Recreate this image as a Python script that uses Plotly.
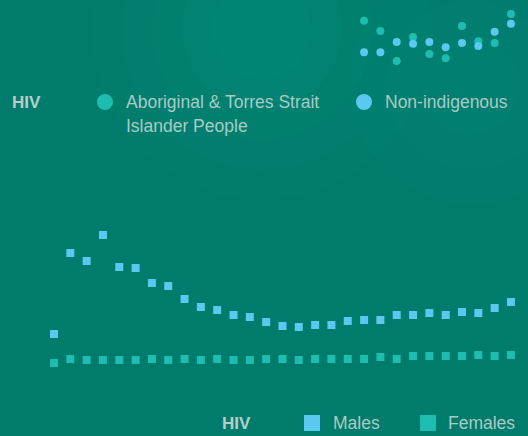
import plotly.graph_objects as go

# ---- data ----
years = list(range(1985, 2014))
males = [3.8, 11.9, 11.1, 13.7, 10.5, 10.4, 8.9, 8.6, 7.3, 6.5, 6.2, 5.7, 5.5, 5.0,
         4.6, 4.5, 4.7, 4.7, 5.1, 5.2, 5.2, 5.7, 5.7, 5.9, 5.7, 6.0, 5.9, 6.4, 7.0]
females = [0.9, 1.3, 1.2, 1.2, 1.2, 1.2, 1.3, 1.2, 1.3, 1.2, 1.3, 1.2, 1.2, 1.3,
           1.3, 1.2, 1.3, 1.3, 1.3, 1.3, 1.5, 1.3, 1.6, 1.6, 1.6, 1.6, 1.7, 1.6, 1.7]
years_ind = list(range(2004, 2014))
aboriginal = [5.95, 5.27, 3.27, 4.87, 3.73, 3.45, 5.60, 4.58, 4.47, 6.40]
non_indigenous = [3.85, 3.85, 4.53, 4.42, 4.53, 4.18, 4.47, 4.27, 5.22, 5.75]

BLUE = "#5bc8ef"
TEAL = "#1fbcb0"
TXT = "#a8cbc4"
HIVC = "#b6cfca"
W, H = 528, 436

fig = go.Figure()
fig.add_trace(go.Scatter(x=years, y=males, mode="markers", name="Males",
                         marker=dict(symbol="square", size=8, color=BLUE), yaxis="y"))
fig.add_trace(go.Scatter(x=years, y=females, mode="markers", name="Females",
                         marker=dict(symbol="square", size=8, color=TEAL), yaxis="y"))
fig.add_trace(go.Scatter(x=years_ind, y=aboriginal, mode="markers",
                         name="Aboriginal & Torres Strait Islander People",
                         marker=dict(symbol="circle", size=8, color=TEAL), yaxis="y2"))
fig.add_trace(go.Scatter(x=years_ind, y=non_indigenous, mode="markers", name="Non-indigenous",
                         marker=dict(symbol="circle", size=8, color=BLUE), yaxis="y2"))

def px(x):
    return x / W

def py(y):
    return 1 - y / H

shapes = []
# background glow
for r, op in [(170, 0.03), (140, 0.035), (110, 0.04), (80, 0.045), (50, 0.05)]:
    shapes.append(dict(type="circle", xref="paper", yref="paper", layer="below",
                       x0=px(262 - r), x1=px(262 + r), y0=py(30 + r), y1=py(30 - r),
                       fillcolor=f"rgba(20,175,155,{op})", line=dict(width=0)))
for r, op in [(120, 0.025), (85, 0.03), (50, 0.035)]:
    shapes.append(dict(type="circle", xref="paper", yref="paper", layer="below",
                       x0=px(470 - r), x1=px(470 + r), y0=py(85 + r), y1=py(85 - r),
                       fillcolor=f"rgba(20,175,155,{op})", line=dict(width=0)))
# legend glyphs
shapes.append(dict(type="circle", xref="paper", yref="paper",
                   x0=px(97), x1=px(113), y0=py(110), y1=py(94),
                   fillcolor=TEAL, line=dict(width=0)))
shapes.append(dict(type="circle", xref="paper", yref="paper",
                   x0=px(356), x1=px(372), y0=py(110), y1=py(94),
                   fillcolor=BLUE, line=dict(width=0)))
shapes.append(dict(type="rect", xref="paper", yref="paper",
                   x0=px(304), x1=px(320), y0=py(431), y1=py(415),
                   fillcolor=BLUE, line=dict(width=0)))
shapes.append(dict(type="rect", xref="paper", yref="paper",
                   x0=px(420), x1=px(436), y0=py(431), y1=py(415),
                   fillcolor=TEAL, line=dict(width=0)))

FONT = "Liberation Sans, Arial, sans-serif"

def ann(text, x, y, color=TXT, size=17.5, bold=False):
    return dict(text=f"<b>{text}</b>" if bold else text, xref="paper", yref="paper",
                x=px(x), y=py(y), xanchor="left", yanchor="middle", showarrow=False,
                font=dict(family=FONT, size=size, color=color), align="left")

annotations = [
    ann("HIV", 10, 102, HIVC, 17, True),
    ann("Aboriginal & Torres Strait", 124, 102),
    ann("Islander People", 124, 126),
    ann("Non-indigenous", 383, 102),
    ann("HIV", 220, 423, HIVC, 17, True),
    ann("Males", 331, 423),
    ann("Females", 446, 423),
]

fig.update_layout(
    width=W, height=H,
    margin=dict(l=0, r=0, t=0, b=0),
    paper_bgcolor="#007c6d",
    plot_bgcolor="rgba(0,0,0,0)",
    showlegend=False,
    xaxis=dict(range=[1981.691, 2014.044], visible=False, showgrid=False, zeroline=False),
    yaxis=dict(range=[-6.4, 37.2], visible=False, showgrid=False, zeroline=False),
    yaxis2=dict(range=[-21.733, 7.333], overlaying="y", visible=False,
                showgrid=False, zeroline=False),
    shapes=shapes,
    annotations=annotations,
)

fig.write_html("out.html", config={"displayModeBar": False},
               post_script="document.body.style.margin='0px';document.body.style.padding='0px';document.body.style.overflow='hidden';")
